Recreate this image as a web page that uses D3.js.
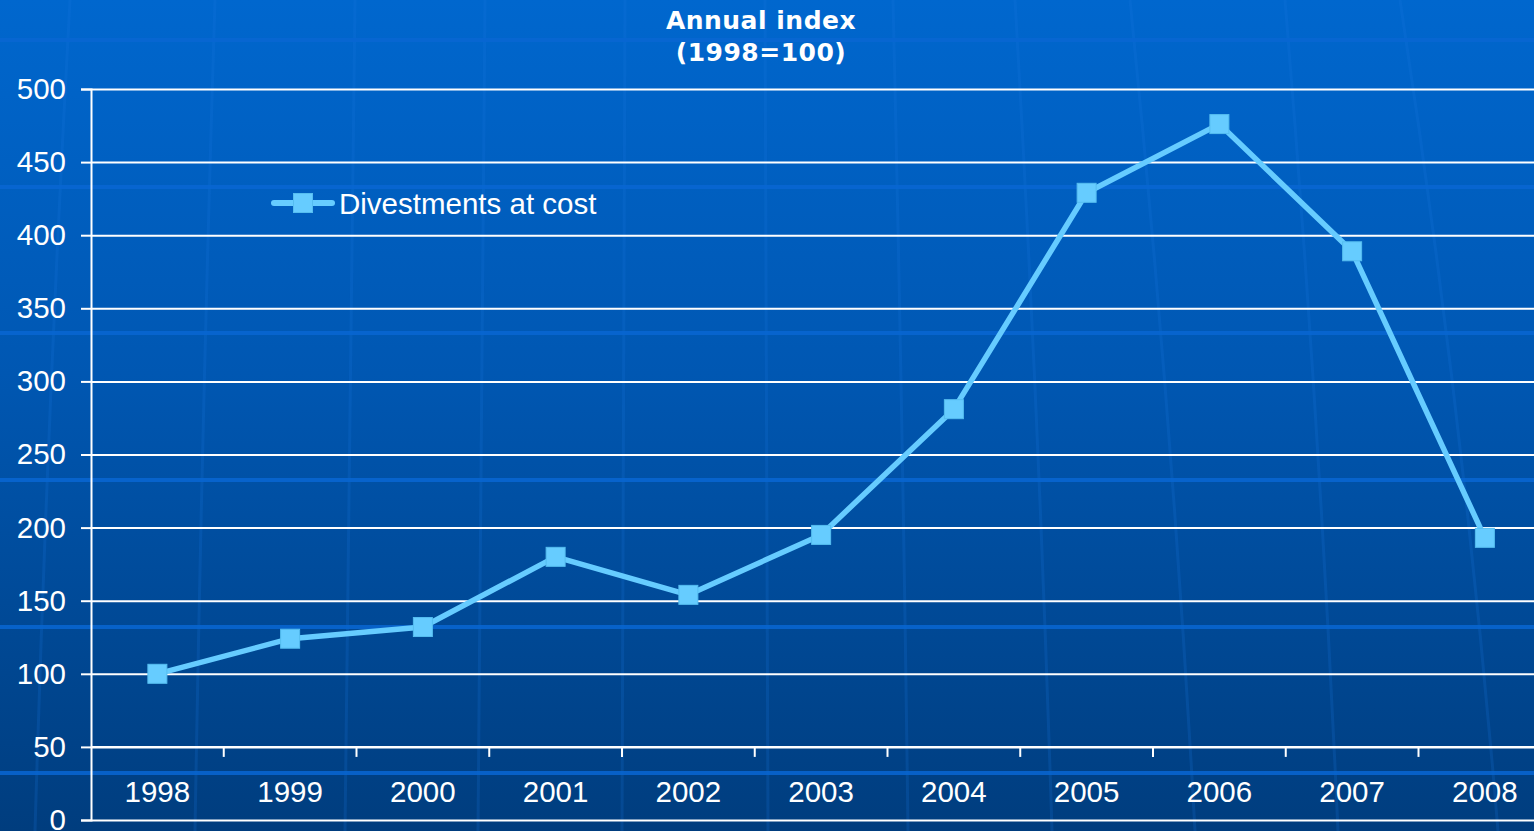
<!DOCTYPE html>
<html>
<head>
<meta charset="utf-8">
<script src="https://cdn.jsdelivr.net/npm/d3@7/dist/d3.min.js"></script>
<style>
  html, body { margin: 0; padding: 0; background: #0058B0; overflow: hidden; }
  svg { display: block; }
</style>
</head>
<body>
<svg id="chart" width="1534" height="831"></svg>
<script>
// Data: annual index of divestments at cost (1998 = 100)
const years = ["1998", "1999", "2000", "2001", "2002", "2003", "2004", "2005", "2006", "2007", "2008"];
const divestments = [100, 124, 132, 180, 154, 195, 281, 429, 476, 389, 193];
const yTicks = [0, 50, 100, 150, 200, 250, 300, 350, 400, 450, 500];
const titleLines = ["Annual index", "(1998=100)"];
const seriesName = "Divestments at cost";

const W = 1534, H = 831;
const svg = d3.select("#chart");

// ---- background: vertical blue gradient with faint globe lines ----
const defs = svg.append("defs");
const grad = defs.append("linearGradient")
  .attr("id", "bg").attr("x1", 0).attr("y1", 0).attr("x2", 0).attr("y2", 1);
grad.append("stop").attr("offset", "0%").attr("stop-color", "#0067CE");
grad.append("stop").attr("offset", "45%").attr("stop-color", "#0057B2");
grad.append("stop").attr("offset", "100%").attr("stop-color", "#003D7E");
svg.append("rect").attr("width", W).attr("height", H).attr("fill", "url(#bg)");

const deco = svg.append("g").attr("class", "globe");
// meridians: [x at top, x at bottom]
const meridians = [[70, 35], [215, 195], [355, 345], [485, 478], [625, 622], [765, 768],
                   [893, 908], [1015, 1052], [1130, 1195], [1285, 1338], [1400, 1498]];
meridians.forEach(([xt, xb]) => {
  const xm = (xt + xb) / 2 + (xb - xt) * 0.15;
  deco.append("path")
    .attr("d", `M${xt},0 Q${xm},${H / 2} ${xb},${H}`)
    .attr("fill", "none")
    .attr("stroke", "#1A78E0")
    .attr("stroke-opacity", 0.2)
    .attr("stroke-width", 3);
});
// latitude bands
[40, 187, 333, 480, 627, 773].forEach(y => {
  deco.append("rect")
    .attr("x", 0).attr("y", y - 2).attr("width", W).attr("height", 4)
    .attr("fill", "#0866D2").attr("opacity", 0.85);
});

// ---- scales ----
const left = 91;
const bandW = 132.75;
const x = d3.scaleBand().domain(years).range([left, left + years.length * bandW]).padding(0);
const y = d3.scaleLinear().domain([0, 500]).range([820, 89]);

// ---- title ----
const title = svg.append("text")
  .attr("x", 761).attr("text-anchor", "middle")
  .attr("font-family", "DejaVu Sans, Verdana, sans-serif")
  .attr("font-weight", "bold").attr("font-size", 25)
  .attr("letter-spacing", 0.5)
  .attr("fill", "#FFFFFF");
title.selectAll("tspan").data(titleLines).join("tspan")
  .attr("x", 761).attr("y", (d, i) => 29 + i * 32).text(d => d);

// ---- gridlines & y axis ----
const yAxis = d3.axisLeft(y).tickValues(yTicks).tickSize(10).tickPadding(15);
const yg = svg.append("g").attr("transform", `translate(${left},0)`).call(yAxis);
yg.select(".domain").attr("stroke", "#FFFFFF").attr("stroke-width", 2);
yg.selectAll(".tick line").attr("stroke", "#FFFFFF").attr("stroke-width", 2);
yg.selectAll(".tick text")
  .attr("fill", "#FFFFFF")
  .attr("font-family", "Liberation Sans, Arial, sans-serif")
  .attr("font-size", 29.5);

const grid = d3.axisLeft(y).tickValues(yTicks).tickSize(-(W - left)).tickFormat("");
const gg = svg.append("g").attr("transform", `translate(${left},0)`).call(grid);
gg.select(".domain").remove();
gg.selectAll(".tick line").attr("stroke", "#FFFFFF").attr("stroke-width", 2);

// ---- category axis at the 50 line, ticks between categories ----
const xAxisY = y(50);
const xg = svg.append("g").attr("transform", `translate(0,${xAxisY})`);
xg.append("line")
  .attr("x1", left).attr("x2", W).attr("y1", 0).attr("y2", 0)
  .attr("stroke", "#FFFFFF").attr("stroke-width", 2);
xg.selectAll("line.sep").data(years.slice(1)).join("line")
  .attr("class", "sep")
  .attr("x1", d => x(d)).attr("x2", d => x(d))
  .attr("y1", 0).attr("y2", 10)
  .attr("stroke", "#FFFFFF").attr("stroke-width", 2);
xg.selectAll("text").data(years).join("text")
  .attr("x", d => x(d) + x.bandwidth() / 2)
  .attr("y", 55)
  .attr("text-anchor", "middle")
  .attr("fill", "#FFFFFF")
  .attr("font-family", "Liberation Sans, Arial, sans-serif")
  .attr("font-size", 29.5)
  .text(d => d);

// ---- series line and markers ----
const pts = years.map((yr, i) => ({ yr, v: divestments[i] }));
const line = d3.line().x(d => x(d.yr) + x.bandwidth() / 2).y(d => y(d.v));
const lineColor = "#66CCFF";
svg.append("path").datum(pts)
  .attr("d", line)
  .attr("fill", "none")
  .attr("stroke", lineColor)
  .attr("stroke-width", 5.5)
  .attr("stroke-linejoin", "round");

const ms = 19;
svg.selectAll("rect.marker").data(pts).join("rect")
  .attr("class", "marker")
  .attr("x", d => x(d.yr) + x.bandwidth() / 2 - ms / 2)
  .attr("y", d => y(d.v) - ms / 2)
  .attr("width", ms).attr("height", ms)
  .attr("fill", lineColor)
  .attr("stroke", "#55BDF0").attr("stroke-width", 1);

// ---- legend ----
const lg = svg.append("g").attr("transform", "translate(274,203)");
lg.append("line").attr("x1", 0).attr("x2", 58).attr("y1", 0).attr("y2", 0)
  .attr("stroke", lineColor).attr("stroke-width", 6).attr("stroke-linecap", "round");
lg.append("rect").attr("x", 29 - ms / 2).attr("y", -ms / 2)
  .attr("width", ms).attr("height", ms)
  .attr("fill", lineColor).attr("stroke", "#55BDF0").attr("stroke-width", 1);
lg.append("text").attr("x", 65).attr("y", 11)
  .attr("fill", "#FFFFFF")
  .attr("font-family", "Liberation Sans, Arial, sans-serif")
  .attr("font-size", 29.5)
  .text(seriesName);
</script>
</body>
</html>
